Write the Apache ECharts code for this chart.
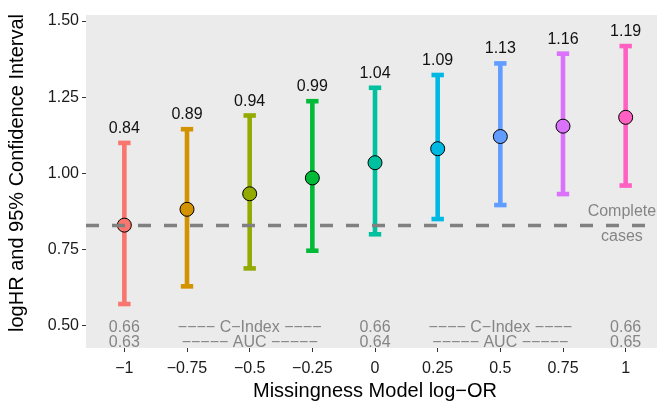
<!DOCTYPE html>
<html>
<head>
<meta charset="utf-8">
<script src="https://cdn.jsdelivr.net/npm/echarts@6/dist/echarts.min.js"></script>
<style>
html,body{margin:0;padding:0;background:#fff;}
#chart{width:657px;height:404px;}
</style>
</head>
<body>
<div id="chart"></div>
<script>
// ---- data ----
const logOR = [-1, -0.75, -0.5, -0.25, 0, 0.25, 0.5, 0.75, 1];
const estimate = [0.830, 0.882, 0.933, 0.985, 1.035, 1.081, 1.121, 1.155, 1.184];
const lowerCI = [0.571, 0.629, 0.688, 0.746, 0.800, 0.850, 0.896, 0.932, 0.960];
const upperCI = [1.100, 1.145, 1.190, 1.237, 1.281, 1.323, 1.361, 1.393, 1.418];
const topLabels = ['0.84', '0.89', '0.94', '0.99', '1.04', '1.09', '1.13', '1.16', '1.19'];
const completeCases = 0.834;
const xTicks = [-1, -0.75, -0.5, -0.25, 0, 0.25, 0.5, 0.75, 1];
const yTicks = [0.5, 0.75, 1.0, 1.25, 1.5];
const annotX = [-1, -0.5, 0, 0.5, 1];
const cIndexRow = ['0.66', '−−−− C−Index −−−−', '0.66', '−−−− C−Index −−−−', '0.66'];
const aucRow = ['0.63', '−−−−− AUC −−−−−', '0.64', '−−−−− AUC −−−−−', '0.65'];
const cIndexY = 0.4950;
const aucY = 0.444;
const completeLabelX = 0.985;

const palette = ['#F8766D', '#D39200', '#93AA00', '#00BA38', '#00C19F', '#00B9E3', '#619CFF', '#DB72FB', '#FF61C3'];
const FONT = '"Liberation Sans", Arial, Helvetica, sans-serif';
const GRAY = '#858585';

const chart = echarts.init(document.getElementById('chart'), null, {renderer: 'canvas'});

const barData = logOR.map((x, i) => [x, lowerCI[i], upperCI[i], i]);
const pointData = logOR.map((x, i) => ({value: [x, estimate[i]], itemStyle: {color: palette[i]}}));
const annotData = [];
annotX.forEach((x, i) => {
  annotData.push([x, cIndexY, cIndexRow[i]]);
  annotData.push([x, aucY, aucRow[i]]);
});

const fmtX = v => (v < 0 ? '−' + String(Math.abs(v)) : String(v));

const option = {
  animation: false,
  backgroundColor: '#ffffff',
  grid: {
    left: 86, top: 15, right: 0, bottom: 56,
    show: true, backgroundColor: '#EBEBEB', borderWidth: 0,
    containLabel: false
  },
  xAxis: {
    type: 'value',
    min: -1.153, max: 1.125,
    position: 'bottom',
    axisLine: {show: false, onZero: false},
    splitLine: {show: false},
    axisTick: {show: true, length: 4, customValues: xTicks, lineStyle: {color: '#333333', width: 1}},
    axisLabel: {
      customValues: xTicks, margin: 13, color: '#1a1a1a', fontSize: 16, fontFamily: FONT,
      formatter: fmtX
    }
  },
  yAxis: {
    type: 'value',
    min: 0.4266, max: 1.52,
    position: 'left',
    axisLine: {show: false, onZero: false},
    splitLine: {show: false},
    axisTick: {show: true, length: 4, customValues: yTicks, lineStyle: {color: '#333333', width: 1}},
    axisLabel: {
      customValues: yTicks, margin: 7, color: '#1a1a1a', fontSize: 16, fontFamily: FONT,
      formatter: v => v.toFixed(2)
    }
  },
  graphic: [
    {type: 'text', x: 375, y: 391, style: {text: 'Missingness Model log−OR', font: '20px ' + FONT, fill: '#000', align: 'center', verticalAlign: 'middle'}},
    {type: 'text', x: 17, y: 173, rotation: Math.PI / 2, style: {text: 'logHR and 95% Confidence Interval', font: '20px ' + FONT, fill: '#000', align: 'center', verticalAlign: 'middle'}}
  ],
  series: [
    {
      type: 'custom',
      z: 2,
      data: barData,
      encode: {x: 0, y: [1, 2]},
      renderItem: function (params, api) {
        const x = api.value(0);
        const lo = api.coord([x, api.value(1)]);
        const hi = api.coord([x, api.value(2)]);
        const idx = api.value(3);
        const c = palette[idx];
        const hw = 6.2;
        const st = {stroke: c, lineWidth: 4.6, lineCap: 'butt'};
        return {
          type: 'group',
          children: [
            {type: 'line', shape: {x1: hi[0], y1: hi[1], x2: lo[0], y2: lo[1]}, style: st},
            {type: 'line', shape: {x1: hi[0] - hw, y1: hi[1], x2: hi[0] + hw, y2: hi[1]}, style: st},
            {type: 'line', shape: {x1: lo[0] - hw, y1: lo[1], x2: lo[0] + hw, y2: lo[1]}, style: st},
            {type: 'text', x: hi[0], y: hi[1] - 14.4, style: {text: topLabels[idx], font: '16px ' + FONT, fill: '#111', align: 'center', verticalAlign: 'middle'}}
          ]
        };
      }
    },
    {
      type: 'line',
      z: 3,
      data: [],
      markLine: {
        silent: true,
        symbol: 'none',
        label: {show: false},
        lineStyle: {color: '#808080', width: 3.3, type: [13, 13]},
        data: [{yAxis: completeCases}]
      }
    },
    {
      type: 'custom',
      z: 3,
      data: [[completeLabelX, completeCases]],
      renderItem: function (params, api) {
        const p = api.coord([api.value(0), api.value(1)]);
        return {
          type: 'text', x: p[0], y: p[1],
          style: {text: 'Complete\ncases', font: '16px ' + FONT, fill: GRAY, align: 'center', verticalAlign: 'middle', lineHeight: 25}
        };
      }
    },
    {
      type: 'scatter',
      z: 4,
      symbol: 'circle',
      symbolSize: 14,
      itemStyle: {borderColor: '#000', borderWidth: 1, opacity: 1},
      data: pointData
    },
    {
      type: 'custom',
      z: 3,
      data: annotData,
      renderItem: function (params, api) {
        const p = api.coord([api.value(0), api.value(1)]);
        return {
          type: 'text', x: p[0], y: p[1],
          style: {text: annotData[params.dataIndex][2], font: '16px ' + FONT, fill: GRAY, align: 'center', verticalAlign: 'middle'}
        };
      }
    }
  ]
};
chart.setOption(option);
</script>
</body>
</html>
